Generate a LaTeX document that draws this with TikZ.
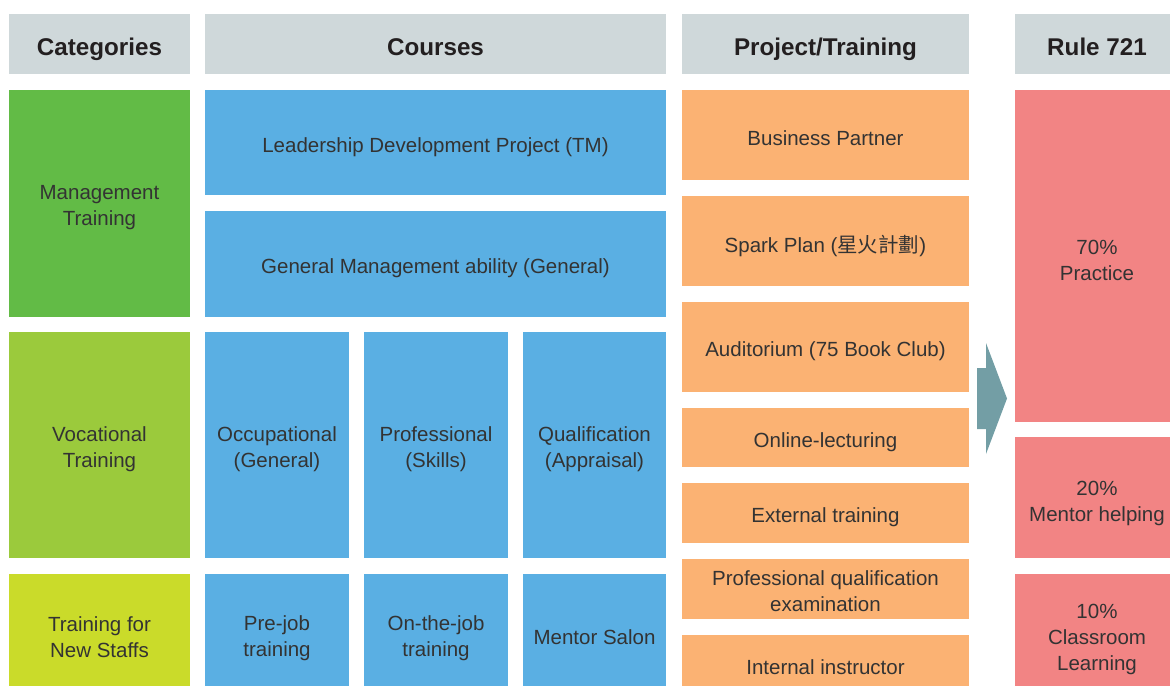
\documentclass[tikz,border=0pt]{standalone}
\usepackage{fontspec}
\setmainfont{Liberation Sans}
\newfontfamily\cjk{Noto Sans CJK TC}
\definecolor{headc}{HTML}{CFD8DA}
\definecolor{mgreen}{HTML}{62BB46}
\definecolor{vgreen}{HTML}{9BCA3C}
\definecolor{ygreen}{HTML}{CADB2A}
\definecolor{cblue}{HTML}{5AAFE3}
\definecolor{corange}{HTML}{FBB273}
\definecolor{cpink}{HTML}{F28484}
\definecolor{carrow}{HTML}{739EA5}
\definecolor{txt}{HTML}{333333}
\definecolor{headtxt}{HTML}{231F20}
% optional #1: downward text shift in pt
\newcommand\cell[8][4.5]{%
  \node[#7, minimum width={#5-#3}, minimum height={#6-#4}] (#2) at ({(#3+#5)/2},{(#4+#6)/2}) {};
  \node[#7, fill=none, minimum width=0pt, minimum height=0pt, txtshift, yshift={-#1pt}] (#2-t) at (#2.center) {#8};}
\begin{document}
\begin{tikzpicture}[x=1pt,y=-1pt,
  txtshift/.style={},
  cellbox/.style={inner sep=0pt, outer sep=0pt, align=center, text=txt, font=\fontsize{20.5}{26}\selectfont},
  headbox/.style={cellbox, fill=headc, text=headtxt, font=\fontsize{24.2}{28}\selectfont\bfseries},
  rulehead/.style={headbox, txtshift/.style={xshift=4.5pt}},
  mgmt/.style={cellbox, fill=mgreen},
  voc/.style={cellbox, fill=vgreen},
  newst/.style={cellbox, fill=ygreen},
  course/.style={cellbox, fill=cblue},
  proj/.style={cellbox, fill=corange},
  rule/.style={cellbox, fill=cpink, txtshift/.style={xshift=4.5pt}},
  bigarrow/.style={fill=carrow, draw=none}]
\useasboundingbox (0,0) rectangle (1170,686);
% headers
\cell[5.5]{hcat}{9}{14}{190}{74}{headbox}{Categories}
\cell[3.5]{hcou}{205}{14}{666}{74}{headbox}{Courses}
\cell[5.5]{hpro}{682}{14}{969}{74}{headbox}{Project/Training}
\cell[2.5]{hrul}{1015}{14}{1170}{74}{rulehead}{Rule 721}
% categories
\cell{cmgmt}{9}{90}{190}{317}{mgmt}{Management\\Training}
\cell{cvoc}{9}{332}{190}{558}{voc}{Vocational\\Training}
\cell[7.5]{cnew}{9}{574}{190}{686}{newst}{Training for\\New Staffs}
% courses
\cell{lead}{205}{90}{666}{195}{course}{Leadership Development Project (TM)}
\cell{gen}{205}{211}{666}{317}{course}{General Management ability (General)}
\cell{occ}{205}{332}{349}{558}{course}{Occupational\\(General)}
\cell{prof}{364}{332}{508}{558}{course}{Professional\\(Skills)}
\cell{qual}{523}{332}{666}{558}{course}{Qualification\\(Appraisal)}
\cell[8]{pre}{205}{574}{349}{686}{course}{Pre-job\\training}
\cell[8]{onj}{364}{574}{508}{686}{course}{On-the-job\\training}
\cell[7.5]{ment}{523}{574}{666}{686}{course}{Mentor Salon}
% projects
\cell[3]{bp}{682}{90}{969}{180}{proj}{Business Partner}
\cell{sp}{682}{196}{969}{286}{proj}{Spark Plan ({\cjk 星火計劃})}
\cell{aud}{682}{302}{969}{392}{proj}{Auditorium (75 Book Club)}
\cell{onl}{682}{408}{969}{467}{proj}{Online-lecturing}
\cell{ext}{682}{483}{969}{543}{proj}{External training}
\cell[2.5]{pqe}{682}{559}{969}{619}{proj}{Professional qualification\\examination}
\cell[7]{ins}{682}{635}{969}{686}{proj}{Internal instructor}
% rule 721
\cell{r70}{1015}{90}{1170}{422}{rule}{70\%\\Practice}
\cell[6]{r20}{1015}{437}{1170}{558}{rule}{20\%\\Mentor helping}
\cell[9]{r10}{1015}{574}{1170}{686}{rule}{10\%\\Classroom\\Learning}
% arrow
\fill[bigarrow] (977,368) -- (986,368) -- (986,343) -- (1007,398.5) -- (986,454) -- (986,429) -- (977,429) -- cycle;
\end{tikzpicture}
\end{document}
